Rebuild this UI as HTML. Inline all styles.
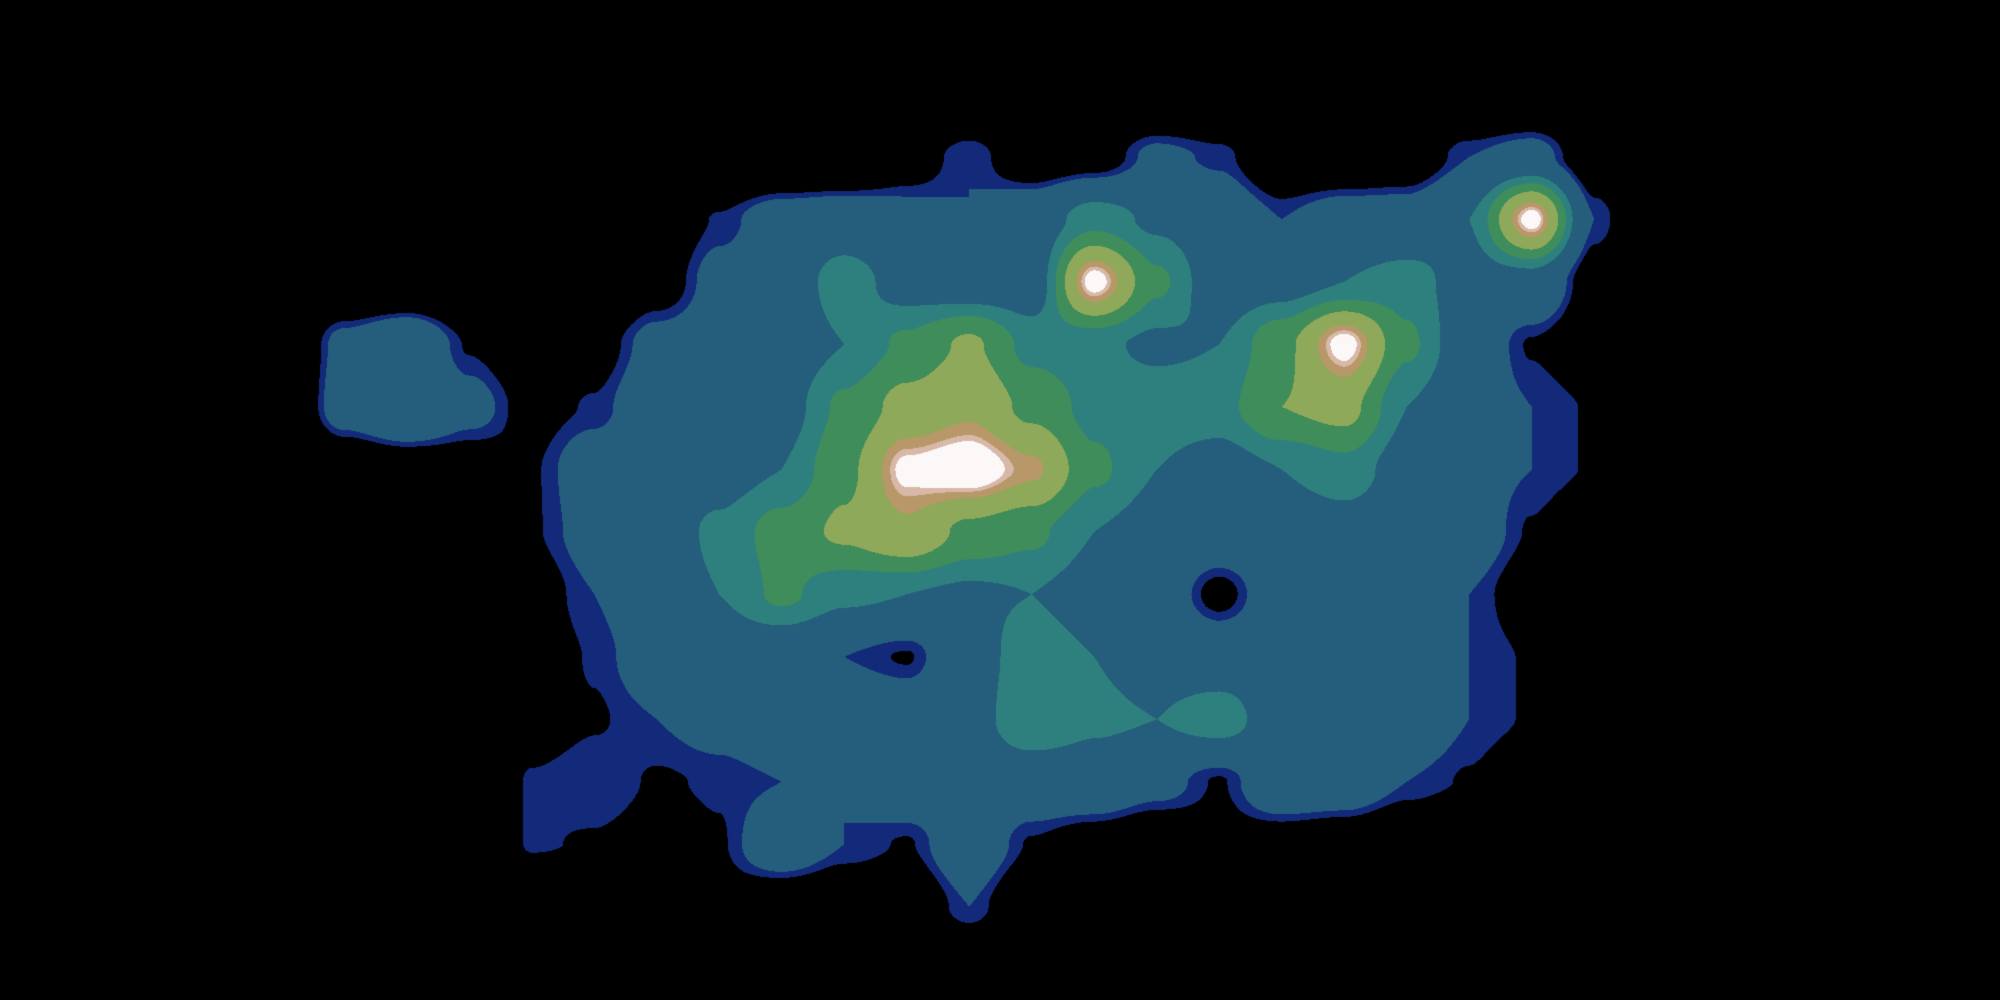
<!DOCTYPE html>
<html><head><meta charset="utf-8"><style>
html,body{margin:0;padding:0;background:#000;width:2000px;height:1000px;overflow:hidden}
canvas{display:block}
</style></head><body>
<div>
<canvas id="c" width="2000" height="1000"></canvas>
</div>
<script>
// grid values (rows top->bottom, 32 columns)
const row0=[0,0,0,0,0,0,0,0,0,0,0,0,0,0,0,0,0,0,0,0,0,0,0,0,0,0,0,0,0,0,0,0];
const row1=[0,0,0,0,0,0,0,0,0,0,0,0,0,0,0,0,0,0,0,0,0,0,0,0,0,0,0,0,0,0,0,0];
const row2=[0,0,0,0,0,0,0,0,0,0,0,0,0,0,0.8,1.5,0.6,0.8,1.7,1.4,0.5,0.4,0.6,1.5,1.9,0.6,0,0,0,0,0,0];
const row3=[0,0,0,0,0,0,0,0,0,0,0.6,1.3,2,2.2,1.8,1.5,2.3,3.5,2.8,2.2,1.5,2,2,3,6.9,1.5,0,0,0,0,0,0];
const row4=[0,0,0,0,0,0,0,0,0,0,0.8,1.8,2.2,3.5,2.5,2.2,2.3,6.9,4,2.3,2.5,3,3.4,2.5,2.5,0.8,0,0,0,0,0,0];
const row5=[0,0,0,0,0,1.8,2.5,1.2,0.6,0.9,1.8,2,2.2,3,4,5,3.5,3.2,2.8,3,4.5,6.9,4,2.2,1.2,0.6,0,0,0,0,0,0];
const row6=[0,0,0,0,0,2,2.8,1.8,1,1.3,2.2,2.3,2.5,4,5.2,5.8,4.5,3.5,3.5,3.5,4.8,5.2,3,2,1.5,1.2,0.6,0,0,0,0,0];
const row7=[0,0,0,0,0,0.4,0.6,0.8,1.2,2,2.3,2.5,3,4.5,6.8,7.2,6.2,4,3,2.5,3,3.5,2.5,1.8,1.5,1.2,0.5,0,0,0,0,0];
const row8=[0,0,0,0,0,0,0,0.6,1.2,1.8,2.4,3.2,4.2,5,5.8,4.5,4,3,2.5,2.3,2.3,2.5,2.3,2,1.2,0.5,0,0,0,0,0,0];
const row9=[0,0,0,0,0,0,0,0.4,0.9,1.5,2.3,3,4,3.2,3,2.8,3,2.5,2.2,1.0,2.2,2.3,2.2,1.5,0.8,0.4,0,0,0,0,0,0];
const row10=[0,0,0,0,0,0,0,0.3,0.8,1.3,2,2.2,2,1.5,1.2,2.5,3.5,3,2.5,2.3,2.3,2.8,2.2,1.5,1.2,1,0.3,0,0,0,0,0];
const row11=[0,0,0,0,0,0,0,0.4,0.9,1.2,1.5,1.8,2.3,2.5,2.3,2.5,3.8,3.2,3,3.5,2.3,2.3,2.2,1.5,1.2,0.5,0,0,0,0,0,0];
const row12=[0,0,0,0,0,0,0,0.4,1.3,1.5,1.2,1.3,1.5,1.5,2.3,2.3,2.2,2.3,1.8,1.2,2.3,2.2,1.5,1.2,0.6,0,0,0,0,0,0,0];
const row13=[0,0,0,0,0,0,0,0.3,1.3,1.2,1,1.2,2.2,1.5,1.2,2.2,1.2,0.8,0.5,1,0.8,0.6,0.3,0,0,0,0,0,0,0,0,0];
const row14=[0,0,0,0,0,0,0,0,0.3,0.5,0.6,1,0.5,0.4,0.5,1.5,0.4,0,0,0,0,0,0,0,0,0,0,0,0,0,0,0];
const row15=[0,0,0,0,0,0,0,0,0,0,0,0,0,0,0,0,0,0,0,0,0,0,0,0,0,0,0,0,0,0,0,0];
const grid=[row0,row1,row2,row3,row4,row5,row6,row7,row8,row9,row10,row11,row12,row13,row14,row15];
const levels=[1.25,1.5,3.0,3.8,4.8,6,6.4,6.6];
const colors=[[0,0,0],[19,41,122],[36,94,124],[46,128,126],[63,141,90],[143,169,90],[184,152,104],[216,184,168],[252,248,248]];

const cv=document.getElementById('c'),ctx=cv.getContext('2d');
const W=2000,H=1000,R=grid.length,C=grid[0].length;
const cw=W/C,ch=H/R;
const img=ctx.createImageData(W,H),d=img.data;
function val(x,y){
  let gx=x/cw-0.5,gy=y/ch-0.5;
  gx=Math.max(0,Math.min(C-1.0001,gx));gy=Math.max(0,Math.min(R-1.0001,gy));
  const i=Math.floor(gx),j=Math.floor(gy),fx=gx-i,fy=gy-j;
  const sx=fx*fx*(3-2*fx),sy=fy*fy*(3-2*fy);
  const a=grid[j][i],b=grid[j][i+1],c=grid[j+1][i],e=grid[j+1][i+1];
  return (a*(1-sx)+b*sx)*(1-sy)+(c*(1-sx)+e*sx)*sy;
}
for(let y=0;y<H;y++)for(let x=0;x<W;x++){
  const v=val(x,y);let k=0;
  for(let l=0;l<levels.length;l++)if(v>=levels[l])k=l+1;
  const col=colors[k],p=(y*W+x)*4;
  d[p]=col[0];d[p+1]=col[1];d[p+2]=col[2];d[p+3]=255;
}
ctx.putImageData(img,0,0);
</script>
</body></html>
